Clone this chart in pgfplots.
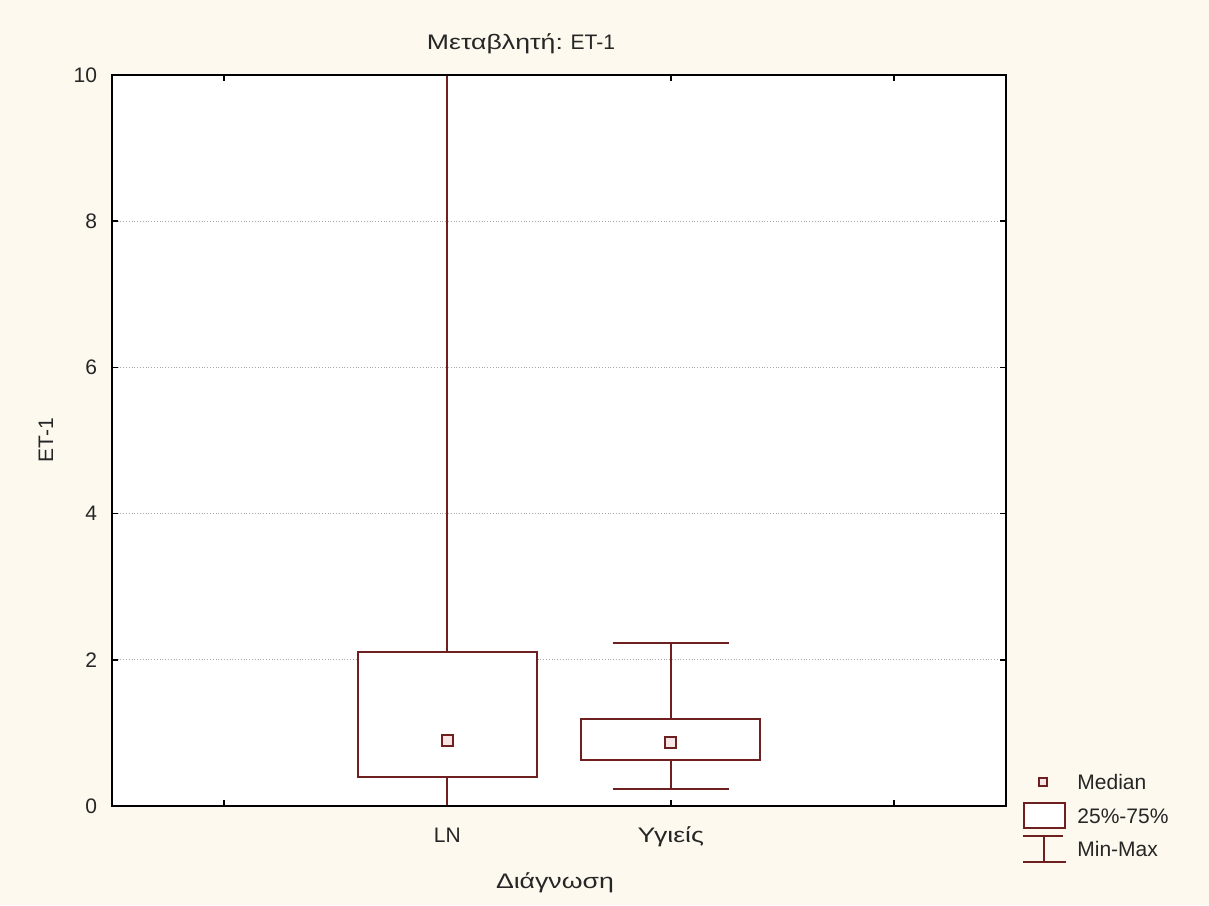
\documentclass[border=0pt]{standalone}
\usepackage{pgfplots}
\pgfplotsset{compat=1.18}
\usepgfplotslibrary{statistics}
\usepackage{fontspec}
\setmainfont{Liberation Sans}
% wider face for the Greek words
\newfontfamily\grfont{Liberation Sans}[FakeStretch=1.27]

\definecolor{bgcream}{HTML}{FDF9EE}
\definecolor{boxred}{HTML}{6E1F1F}
\definecolor{medfill}{HTML}{F8E6E6}
\definecolor{textgray}{HTML}{262626}

\begin{document}
\begin{tikzpicture}
% window background
\fill[bgcream] (0,0) rectangle (604.5pt,452.5pt);

\begin{axis}[
  at={(56pt,49.5pt)}, anchor=south west,
  scale only axis, width=447pt, height=365.5pt,
  xmin=-0.5, xmax=3.5, ymin=0, ymax=10,
  xtick={0,1,2,3}, xticklabels={,LN,{\grfont Υγιείς},},
  ytick={0,2,4,6,8,10},
  axis background/.style={fill=white},
  axis line style={black, line width=1pt},
  major tick length=3pt,
  tick style={black, line width=0.8pt},
  ymajorgrids,
  grid style={densely dotted, gray!70, line width=0.5pt},
  font=\fontsize{10.5}{12}\selectfont,
  every tick label/.append style={textgray},
  /pgf/number format/assume math mode=true,
  xticklabel style={anchor=base, yshift=-18pt},
  yticklabel style={anchor=east, xshift=-4pt},
  every axis title shift=0pt,
  title={{\grfont Μεταβλητή:} ET-1},
  title style={at={(axis description cs:0.4575,1.0342)}, anchor=base, textgray},
  xlabel={\grfont Διάγνωση},
  xlabel style={at={(axis description cs:0.4955,-0.1122)}, anchor=base, textgray},
  ylabel={ET-1},
  ylabel style={at={(axis description cs:-0.066,0.5)}, anchor=base, textgray},
  boxplot/draw direction=y,
  boxplot/draw/median/.code={},
  after end axis/.code={
    \draw[black, line width=1pt] (rel axis cs:0,0) rectangle (rel axis cs:1,1);
  },
]
% LN
\addplot[draw=boxred, fill=white, line width=1pt,
  boxplot prepared={median=0.90, lower quartile=0.40, upper quartile=2.10,
    lower whisker=0, upper whisker=10,
    draw position=1, box extend=0.8, whisker extend=0.52}]
  coordinates {};
% Υγιείς
\addplot[draw=boxred, fill=white, line width=1pt,
  boxplot prepared={median=0.87, lower quartile=0.63, upper quartile=1.19,
    lower whisker=0.23, upper whisker=2.23,
    draw position=2, box extend=0.8, whisker extend=0.52}]
  coordinates {};
% medians
\addplot[only marks, mark=square*, mark size=2.8pt,
  mark options={draw=boxred, fill=medfill, line width=1.1pt}]
  coordinates {(1,0.90) (2,0.87)};
\end{axis}

% legend, in pixel units measured from the top-left corner
\begin{scope}[x=0.5pt, y=-0.5pt, shift={(0,452.5pt)},
  every node/.style={anchor=west, inner sep=0pt, textgray, font=\fontsize{10.5}{12}\selectfont}]
  \draw[boxred, line width=1pt, fill=medfill] (1039,778) rectangle (1047,786);
  \node at (1077,782) {Median};
  \draw[boxred, line width=1pt, fill=white] (1024,803) rectangle (1065,828);
  \node at (1077,816) {25\%-75\%};
  \draw[boxred, line width=1pt] (1023,836) -- (1063,836)
    (1044,836) -- (1044,862) (1023,862) -- (1066,862);
  \node at (1077,849) {Min-Max};
\end{scope}

\pgfresetboundingbox
\path (0,0) rectangle (604.5pt,452.5pt);
\end{tikzpicture}
\end{document}
